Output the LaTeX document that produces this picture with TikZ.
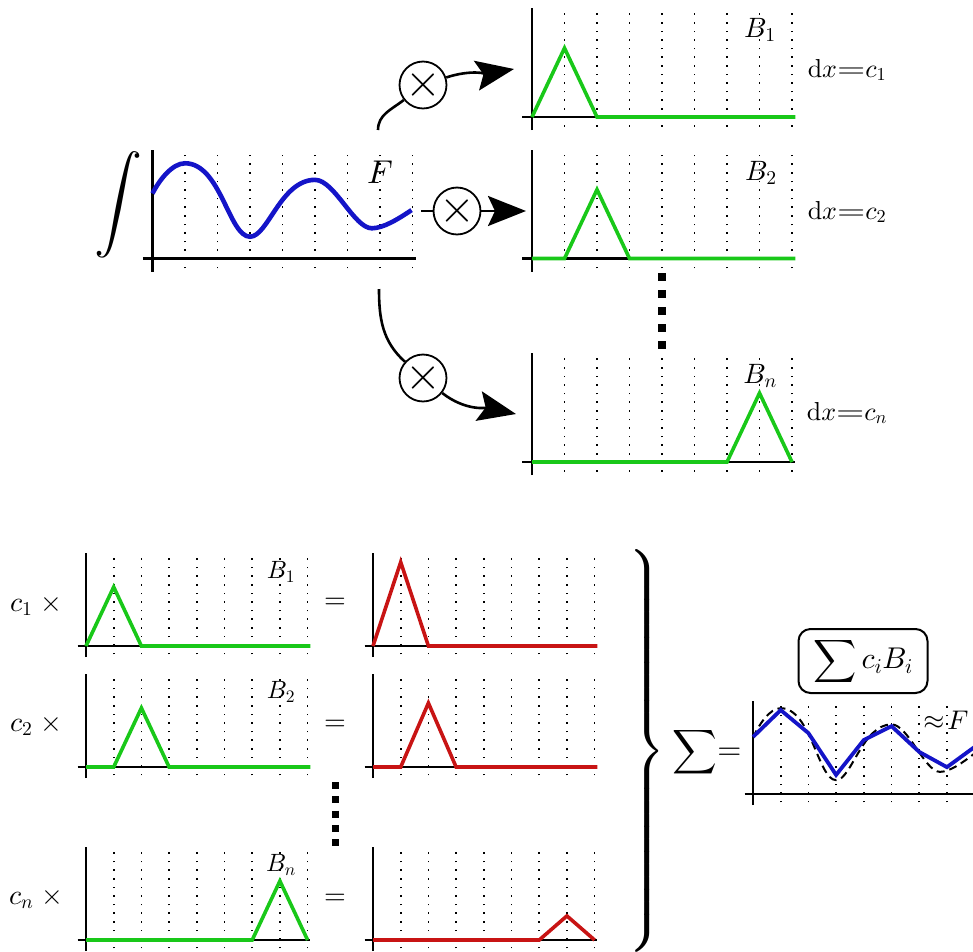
\documentclass[tikz,border=0pt]{standalone}
\usepackage{amsmath}
\usepackage{graphicx}
\usepackage{tikz}
\usetikzlibrary{positioning,arrows.meta}
\DeclareFontShape{OML}{cmm}{m}{it}{<->cmmi10}{}
\DeclareFontShape{OMS}{cmsy}{m}{n}{<->cmsy10}{}
\DeclareFontShape{OMX}{cmex}{m}{n}{<->cmex10}{}
\DeclareFontShape{OT1}{cmr}{m}{n}{<->cmr10}{}
\definecolor{basisgreen}{RGB}{25,200,25}
\definecolor{scaledred}{RGB}{200,20,20}
\definecolor{curveblue}{RGB}{20,20,200}
\tikzset{
  gridline/.style = {line width=1.6pt, dash pattern=on 1.6pt off 7pt},
  axisline/.style = {line width=2.4pt},
  basis/.style    = {draw=basisgreen, line width=3.6pt},
  scaled/.style   = {draw=scaledred, line width=3.6pt},
  fcurve/.style   = {draw=curveblue, line width=4.6pt},
  approx/.style   = {line width=2pt, dash pattern=on 8pt off 5pt},
  mult/.style     = {circle, draw, line width=1.8pt, fill=white, minimum size=44pt,
                     inner sep=0pt, font=\fontsize{46}{46}\selectfont},
  link/.style     = {line width=2.6pt},
  bigtip/.style   = {-{Stealth[length=38pt, width=30pt, inset=7pt]}},
  toplab/.style   = {inner sep=0pt, font=\fontsize{28}{28}\selectfont},
  lowlab/.style   = {inner sep=0pt, font=\fontsize{25}{25}\selectfont},
  rowlab/.style   = {inner sep=0pt, font=\fontsize{28}{28}\selectfont},
  sumbox/.style   = {draw, line width=2pt, rounded corners=12pt, minimum width=129pt,
                     minimum height=64pt, inner sep=3pt, font=\fontsize{30}{30}\selectfont},
  topdots/.style  = {line width=8pt, dash pattern=on 8pt off 9pt},
  lowdots/.style  = {line width=7pt, dash pattern=on 7pt off 7.3pt},
}
\newcommand{\plotframe}{%
  \foreach \k in {1,...,8} \draw[gridline] (\k,-0.3) -- (\k,3.25);
  \draw[axisline] (0,-0.4) -- (0,3.35);
  \draw[axisline] (-0.3,0) -- (8.1,0);
}
% the curve F in plot units
\newcommand{\fpath}{(0,2.0) .. controls (0.2,2.4) and (0.6,2.93) .. (1,2.93)
  .. controls (2.1,2.93) and (2.35,0.67) .. (3,0.67)
  .. controls (3.55,0.67) and (3.95,2.42) .. (5,2.42)
  .. controls (5.6,2.42) and (6.2,0.93) .. (6.75,0.93)
  .. controls (7.1,0.93) and (7.57,1.22) .. (7.97,1.49)}
\newcommand{\wideeq}{{\scalebox{1.4}[1]{$=$}}}

\begin{document}
\begin{tikzpicture}[x=1pt, y=-1pt]
  \useasboundingbox (0,0) rectangle (973,951);
  \clip (0,0) rectangle (973,951);

  % plot origins
  \coordinate (oF)  at (152.5,258.5);
  \coordinate (oB1) at (532,117);
  \coordinate (oB2) at (532,258.5);
  \coordinate (oBn) at (532,462);
  \coordinate (gB1) at (86,646);
  \coordinate (gB2) at (86,767);
  \coordinate (gBn) at (86,940);
  \coordinate (rB1) at (373,646);
  \coordinate (rB2) at (373,767);
  \coordinate (rBn) at (373,940);
  \coordinate (oS)  at (753,794);

  % top half: F projected on each basis
  \begin{scope}[shift={(oF)}, x=32.5pt, y=32.5pt]
    \plotframe
    \draw[fcurve] \fpath;
  \end{scope}
  \begin{scope}[shift={(oB1)}, x=32.5pt, y=32.5pt]
    \plotframe
    \draw[basis] (0,0) -- (1,2.12) -- (2,0) -- (8.1,0);
  \end{scope}
  \begin{scope}[shift={(oB2)}, x=32.5pt, y=32.5pt]
    \plotframe
    \draw[basis] (0,0) -- (1,0) -- (2,2.12) -- (3,0) -- (8.1,0);
  \end{scope}
  \begin{scope}[shift={(oBn)}, x=32.5pt, y=32.5pt]
    \plotframe
    \draw[basis] (0,0) -- (6,0) -- (7,2.12) -- (8,0);
  \end{scope}

  \node (intF) at (118,205) {\fontsize{48}{48}\selectfont$\displaystyle\int$};
  \node[toplab, font=\fontsize{33}{33}\selectfont] (labF) at (380,172) {$F$};
  \node[toplab] (labB1) at (760,30)  {$B_1$};
  \node[toplab] (labB2) at (761,173) {$B_2$};
  \node[toplab] (labBn) at (760,376) {$B_n$};
  \node[toplab, font=\fontsize{26}{26}\selectfont] (dx1) at (847,70)  {$\mathrm{d}x\wideeq c_1$};
  \node[toplab, font=\fontsize{26}{26}\selectfont] (dx2) at (847,212) {$\mathrm{d}x\wideeq c_2$};
  \node[toplab, font=\fontsize{26}{26}\selectfont] (dxn) at (847,413) {$\mathrm{d}x\wideeq c_n$};

  \coordinate (s1) at (378,130);
  \coordinate (s2) at (421,211);
  \coordinate (sn) at (379,289);
  \coordinate (t1) at (514,69);
  \coordinate (t2) at (526,211);
  \coordinate (tn) at (516,414);
  \node[mult] (m1) at (423,85)  {$\times$};
  \node[mult] (m2) at (457,211) {$\times$};
  \node[mult] (mn) at (423,378) {$\times$};
  \draw[link] (s1) to[out=90, in=218] (m1);
  \draw[link, bigtip] (m1) to[out=18, in=190] (t1);
  \draw[link] (s2) -- (m2);
  \draw[link, bigtip] (m2) -- (t2);
  \draw[link] (sn) to[out=-90, in=138] (mn);
  \draw[link, bigtip] (mn) to[out=-38, in=168] (tn);

  \draw[topdots] (662,273) -- (662,351);

  % bottom half: scaled basis functions and their sum
  \begin{scope}[shift={(gB1)}, x=27.7pt, y=27.7pt]
    \plotframe
    \draw[basis] (0,0) -- (1,2.13) -- (2,0) -- (8.1,0);
  \end{scope}
  \begin{scope}[shift={(gB2)}, x=27.7pt, y=27.7pt]
    \plotframe
    \draw[basis] (0,0) -- (1,0) -- (2,2.13) -- (3,0) -- (8.1,0);
  \end{scope}
  \begin{scope}[shift={(gBn)}, x=27.7pt, y=27.7pt]
    \plotframe
    \draw[basis] (0,0) -- (6,0) -- (7,2.13) -- (8,0);
  \end{scope}
  \begin{scope}[shift={(rB1)}, x=27.7pt, y=27.7pt]
    \plotframe
    \draw[scaled] (0,0) -- (1,3.03) -- (2,0) -- (8.1,0);
  \end{scope}
  \begin{scope}[shift={(rB2)}, x=27.7pt, y=27.7pt]
    \plotframe
    \draw[scaled] (0,0) -- (1,0) -- (2,2.31) -- (3,0) -- (8.1,0);
  \end{scope}
  \begin{scope}[shift={(rBn)}, x=27.7pt, y=27.7pt]
    \plotframe
    \draw[scaled] (0,0) -- (6,0) -- (7,0.87) -- (8,0);
  \end{scope}

  \node[lowlab] (lowB1) at (281,572) {$B_1$};
  \node[lowlab] (lowB2) at (281,692) {$B_2$};
  \node[lowlab] (lowBn) at (281,865) {$B_n$};
  \node[rowlab] (c1) at (36,605) {$c_1\;\times$};
  \node[rowlab] (c2) at (36,725) {$c_2\;\times$};
  \node[rowlab] (cn) at (36,898) {$c_n\;\times$};
  \node[rowlab] (eq1) at (335,603) {$=$};
  \node[rowlab] (eq2) at (335,725) {$=$};
  \node[rowlab] (eqn) at (335,899) {$=$};
  \draw[lowdots] (335,782) -- (335,848);

  \node[inner sep=0pt] (brace) at (647,751)
    {\fontsize{42}{42}\selectfont$\left.\vcenter{\hrule height 386pt width 0pt}\right\}$};
  \node[inner sep=0pt] (sumeq) at (707,752)
    {\fontsize{31}{31}\selectfont$\displaystyle{\sum}{=}$};

  \begin{scope}[shift={(oS)}, x=27.7pt, y=27.7pt]
    \plotframe
    \begin{scope}[shift={(0,1.8)}, yscale=1.15, shift={(0,-1.8)}]
      \draw[approx] \fpath;
    \end{scope}
    \draw[fcurve, line width=3.8pt] (0,2.06) -- (1,3.03) -- (2,2.2) -- (3,0.69) -- (4,1.95)
      -- (5,2.45) -- (6,1.52) -- (7,0.97) -- (8,1.7);
  \end{scope}
  \node[sumbox] (sumbox) at (863,661) {$\displaystyle\sum c_iB_i$};
  \node[lowlab, font=\fontsize{27}{27}\selectfont] (approxF) at (946,720) {$\approx\!F$};
\end{tikzpicture}
\end{document}
